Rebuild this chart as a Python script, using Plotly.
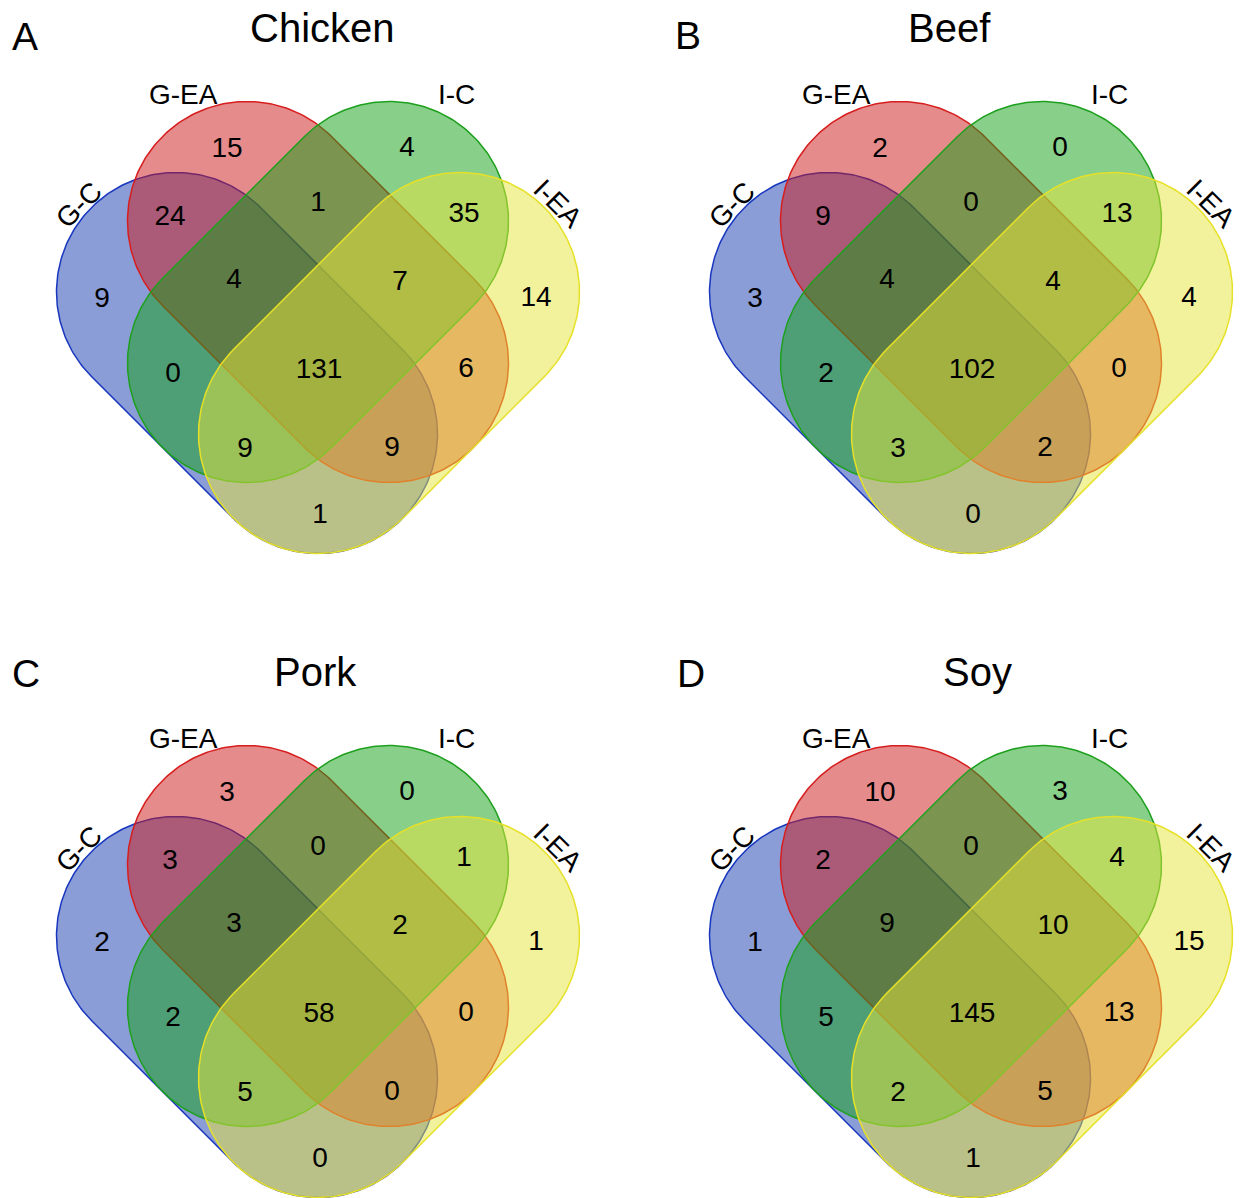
import numpy as np
import plotly.graph_objects as go

# Four-set Venn diagrams of shared features per food matrix
SET_NAMES = ["G-C", "G-EA", "I-C", "I-EA"]
PANEL_TITLES = ["Chicken", "Beef", "Pork", "Soy"]
PANEL_TAGS = ["A", "B", "C", "D"]

# Region order used by every count list below
REGIONS = [
    "G-C", "G-EA", "I-C", "I-EA",
    "G-C&G-EA", "G-EA&I-C", "I-C&I-EA",
    "G-C&G-EA&I-C", "G-EA&I-C&I-EA", "G-C&G-EA&I-C&I-EA",
    "G-C&I-C", "G-EA&I-EA",
    "G-C&I-C&I-EA", "G-C&G-EA&I-EA", "G-C&I-EA",
]

chicken_counts = [9, 15, 4, 14, 24, 1, 35, 4, 7, 131, 0, 6, 9, 9, 1]
beef_counts = [3, 2, 0, 4, 9, 0, 13, 4, 4, 102, 2, 0, 3, 2, 0]
pork_counts = [2, 3, 0, 1, 3, 0, 1, 3, 2, 58, 2, 0, 5, 0, 0]
soy_counts = [1, 10, 3, 15, 2, 0, 4, 9, 10, 145, 5, 13, 2, 5, 1]

PANEL_COUNTS = [chicken_counts, beef_counts, pork_counts, soy_counts]

# ---- layout geometry (pixel units, y grows downward) ----
W, H = 1249, 1198
PANEL_CENTERS = [(318, 292), (971, 292), (318, 936), (971, 936)]
TITLE_POS = [(322, 28), (949, 28), (315, 672), (977, 672)]
TAG_POS = [(25, 36), (688, 35), (26, 673), (691, 673)]
STEP = 71.0      # half-diagonal spacing of the capsule centres
RADIUS = 119.5   # capsule end radius
COUNT_SHIFT = 3  # nudge so digits sit visually centred

# capsule end points (in STEP units) for each set
SET_AXES = {
    "G-C": ((-2, 0), (0, 2)),
    "G-EA": ((-1, -1), (1, 1)),
    "I-C": ((1, -1), (-1, 1)),
    "I-EA": ((2, 0), (0, 2)),
}
SET_FILL = {
    "G-C": "rgba(24,60,175,0.5)",
    "G-EA": "rgba(204,24,24,0.5)",
    "I-C": "rgba(18,160,22,0.5)",
    "I-EA": "rgba(232,230,58,0.5)",
}
SET_LINE = {
    "G-C": "rgb(25,55,190)",
    "G-EA": "rgb(215,30,30)",
    "I-C": "rgb(30,160,30)",
    "I-EA": "rgb(230,225,40)",
}
# set-name label offsets and rotations
SET_LABEL = {
    "G-C": ((-240, -87), -45),
    "G-EA": ((-135, -198), 0),
    "I-C": ((138, -198), 0),
    "I-EA": ((240, -89), 45),
}
# where each region's count is written, relative to the panel centre
REGION_OFFSET = {
    "G-C": (-216, 5), "G-EA": (-91, -145), "I-C": (89, -146), "I-EA": (218, 4),
    "G-C&G-EA": (-148, -77), "G-EA&I-C": (0, -91), "I-C&I-EA": (146, -80),
    "G-C&G-EA&I-C": (-84, -14), "G-EA&I-C&I-EA": (82, -12),
    "G-C&G-EA&I-C&I-EA": (1, 76),
    "G-C&I-C": (-145, 80), "G-EA&I-EA": (148, 75),
    "G-C&I-C&I-EA": (-73, 155), "G-C&G-EA&I-EA": (74, 154),
    "G-C&I-EA": (2, 221),
}

FONT = "Liberation Sans, Arial, Helvetica, sans-serif"


def capsule(p1, p2, r, n=140):
    p1 = np.asarray(p1, float)
    p2 = np.asarray(p2, float)
    u = (p2 - p1) / np.linalg.norm(p2 - p1)
    a = np.arctan2(u[1], u[0])
    t_end = np.linspace(a - np.pi / 2, a + np.pi / 2, n)
    t_start = np.linspace(a + np.pi / 2, a + 3 * np.pi / 2, n)
    xs = np.concatenate([p2[0] + r * np.cos(t_end), p1[0] + r * np.cos(t_start)])
    ys = np.concatenate([p2[1] + r * np.sin(t_end), p1[1] + r * np.sin(t_start)])
    return np.append(xs, xs[0]), np.append(ys, ys[0])


fig = go.Figure()
annotations = []

for (cx, cy), title, tag, counts, tpos, gpos in zip(
        PANEL_CENTERS, PANEL_TITLES, PANEL_TAGS, PANEL_COUNTS, TITLE_POS, TAG_POS):
    for name in SET_NAMES:
        (a1, b1), (a2, b2) = SET_AXES[name]
        xs, ys = capsule((cx + a1 * STEP, cy + b1 * STEP),
                         (cx + a2 * STEP, cy + b2 * STEP), RADIUS)
        fig.add_trace(go.Scatter(
            x=xs, y=ys, mode="lines", fill="toself",
            fillcolor=SET_FILL[name],
            line=dict(color=SET_LINE[name], width=1.5),
            hoverinfo="skip", showlegend=False,
        ))
        (dx, dy), ang = SET_LABEL[name]
        annotations.append(dict(
            x=cx + dx, y=cy + dy, text=name, showarrow=False, textangle=ang,
            xanchor="center", yanchor="middle",
            font=dict(family=FONT, size=28, color="black"),
        ))

    fig.add_trace(go.Scatter(
        x=[cx + REGION_OFFSET[r][0] for r in REGIONS],
        y=[cy + REGION_OFFSET[r][1] + COUNT_SHIFT for r in REGIONS],
        text=[str(v) for v in counts],
        mode="text", textposition="middle center",
        textfont=dict(family=FONT, size=28, color="black"),
        hoverinfo="skip", showlegend=False,
    ))

    annotations.append(dict(
        x=tpos[0], y=tpos[1], text=title, showarrow=False,
        xanchor="center", yanchor="middle",
        font=dict(family=FONT, size=40, color="black"),
    ))
    annotations.append(dict(
        x=gpos[0], y=gpos[1], text=tag, showarrow=False,
        xanchor="center", yanchor="middle",
        font=dict(family=FONT, size=39, color="black"),
    ))

fig.update_layout(
    width=W, height=H,
    margin=dict(l=0, r=0, t=0, b=0),
    paper_bgcolor="white", plot_bgcolor="white",
    xaxis=dict(range=[0, W], visible=False, fixedrange=True),
    yaxis=dict(range=[H, 0], visible=False, fixedrange=True),
    annotations=annotations,
    showlegend=False,
    hovermode=False,
)

fig.write_html("out.html")
